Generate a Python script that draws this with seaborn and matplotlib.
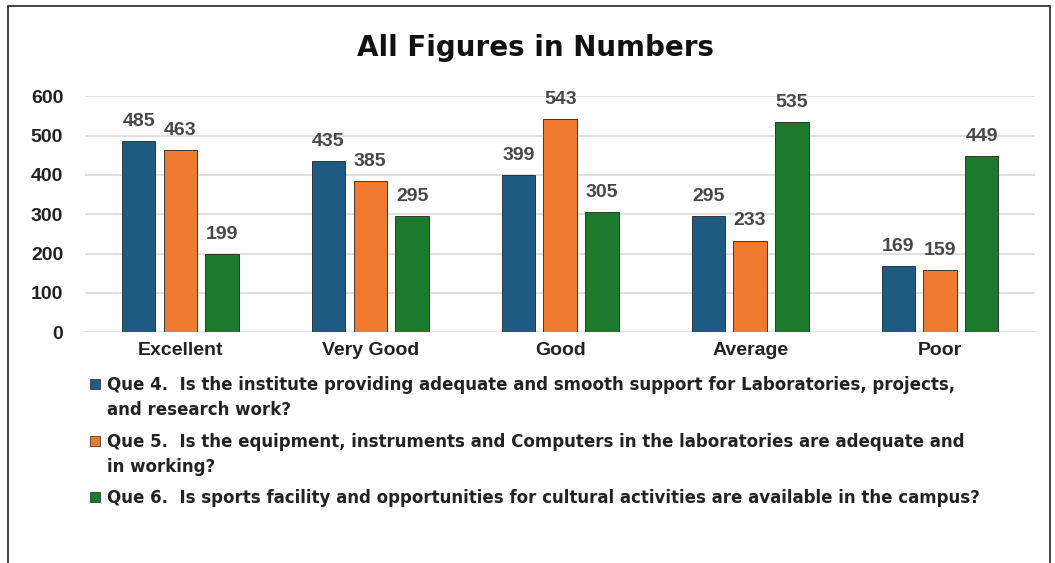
import matplotlib
matplotlib.use("Agg")
import matplotlib.pyplot as plt
import matplotlib.patches as mpatches
import pandas as pd
import seaborn as sns

#================================
# DATA
#================================
categories = ["Excellent", "Very Good", "Good", "Average", "Poor"]
que4 = [485, 435, 399, 295, 169]
que5 = [463, 385, 543, 233, 159]
que6 = [199, 295, 305, 535, 449]
series_names = [
    "Que 4.  Is the institute providing adequate and smooth support for Laboratories, projects,\nand research work?",
    "Que 5.  Is the equipment, instruments and Computers in the laboratories are adequate and\nin working?",
    "Que 6.  Is sports facility and opportunities for cultural activities are available in the campus?",
]
colors = ["#1D5B82", "#EE7A30", "#1C7A2C"]
y_ticks = [0, 100, 200, 300, 400, 500, 600]

rows = []
for name, vals in zip(series_names, [que4, que5, que6]):
    for c, v in zip(categories, vals):
        rows.append({"category": c, "series": name, "value": v})
df = pd.DataFrame(rows)

#================================
# PLOT
#================================
sns.set_style("white")
narrow = ["Liberation Sans Narrow", "DejaVu Sans"]
plt.rcParams["font.family"] = ["Liberation Sans", "DejaVu Sans"]

W, H = 1055, 563
fig = plt.figure(figsize=(W / 100, H / 100), dpi=100)
ax = fig.add_axes([0.081, 0.410, 0.900, 0.419])

sns.barplot(data=df, x="category", y="value", hue="series", palette=colors,
            saturation=1, width=0.66, gap=0.2, edgecolor="#222222", linewidth=0.6,
            legend=False, ax=ax)

for cont in ax.containers:
    ax.bar_label(cont, padding=8, fontsize=14, fontweight="bold", color="#484848")

ax.set_ylim(0, 600)
ax.set_xlim(-0.5, 4.5)
ax.set_yticks(y_ticks)
ax.set_yticklabels([str(t) for t in y_ticks], fontsize=14, fontweight="bold", color="#222222")
ax.set_xticks(range(len(categories)))
ax.set_xticklabels(categories, fontsize=14, fontweight="bold", color="#222222")
ax.tick_params(axis="both", length=0)
ax.tick_params(axis="y", pad=16)
ax.tick_params(axis="x", pad=7)
ax.yaxis.grid(True, color="#d9d9d9", linewidth=1.2)
ax.set_axisbelow(True)
for s in ax.spines.values():
    s.set_visible(False)
ax.set_xlabel("")
ax.set_ylabel("")

fig.text(0.508, 0.915, "All Figures in Numbers", ha="center", va="center",
         fontsize=20, fontweight="bold", family=narrow, color="#111111")

# legend drawn by hand so wrapped lines get the same spacing as the original
entry_centers = [384, 441, 497]  # pixel rows of each entry's first line
for name, col, yc in zip(series_names, colors, entry_centers):
    fig.patches.append(mpatches.Rectangle((90 / W, 1 - (yc + 5) / H), 10 / W, 10 / H,
                                          transform=fig.transFigure, facecolor=col,
                                          edgecolor="#222222", linewidth=0.5))
    fig.text(107 / W, 1 - (yc - 8) / H, name, ha="left", va="top", fontsize=12,
             fontweight="bold", family="DejaVu Sans", color="#222222", linespacing=1.5)

# outer frame
fig.patches.append(mpatches.Rectangle((0.008, -0.01), 0.987, 1.0, transform=fig.transFigure,
                                      fill=False, edgecolor="#222222", linewidth=1.2))

fig.savefig("out.png", dpi=100)
